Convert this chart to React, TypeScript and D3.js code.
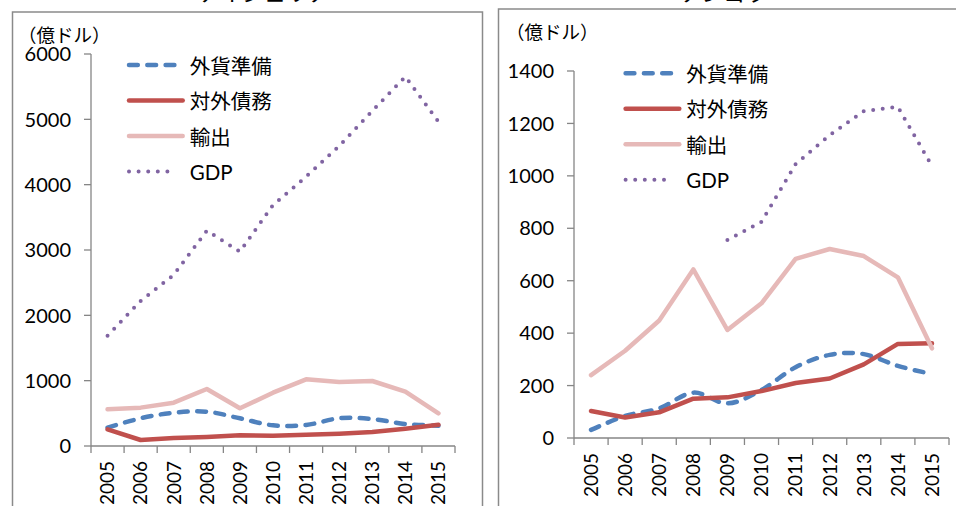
import React from 'react';
import * as d3 from 'd3';

const years = ['2005', '2006', '2007', '2008', '2009', '2010', '2011', '2012', '2013', '2014', '2015'];
const seriesNames = ['外貨準備', '対外債務', '輸出', 'GDP'];
const unitLabel = '（億ドル）';

const leftTitle = 'ナイジェリア';
const leftTicks = [0, 1000, 2000, 3000, 4000, 5000, 6000];
const leftReserves = [281, 424, 510, 525, 424, 316, 321, 424, 413, 337, 311];
const leftDebt = [255, 92, 122, 138, 163, 158, 173, 189, 214, 265, 326];
const leftExports = [562, 587, 663, 872, 577, 816, 1021, 980, 995, 832, 500];
const leftGDP = [1689, 2220, 2620, 3296, 2974, 3689, 4122, 4592, 5128, 5653, 4964];

const rightTitle = 'アンゴラ';
const rightTicks = [0, 200, 400, 600, 800, 1000, 1200, 1400];
const rightReserves = [31, 84, 113, 173, 132, 183, 270, 317, 320, 275, 244];
const rightDebt = [103, 78, 98, 150, 155, 179, 210, 227, 281, 359, 361];
const rightExports = [240, 333, 448, 643, 412, 514, 683, 721, 694, 613, 342];
const rightGDP: (number | null)[] = [null, null, null, null, 755, 825, 1045, 1155, 1247, 1263, 1038];

const STYLES = [
  { color: '#4F81BD', dash: '8.8 9.5', curve: d3.curveCardinal },
  { color: '#C0504D', dash: undefined, curve: d3.curveLinear },
  { color: '#E6B9B8', dash: undefined, curve: d3.curveLinear },
  { color: '#8064A2', dash: '0 9.6', curve: d3.curveLinear },
];

const LATIN = "Lato, 'Noto Sans CJK JP', sans-serif";
const CJK = "'Noto Sans CJK JP', sans-serif";
const AXIS_COLOR = '#868686';

type PanelProps = {
  border: { x: number; y: number; w: number; h: number };
  title: string;
  titleX: number;
  axisX0: number;
  axisX1: number;
  yZero: number;
  yTop: number;
  max: number;
  ticks: number[];
  series: (number | null)[][];
  legendX: number;
  legendY: number;
  unitX: number;
  unitY: number;
};

function Panel(p: PanelProps) {
  const x = d3.scaleBand<string>().domain(years).range([p.axisX0, p.axisX1]).padding(0);
  const y = d3.scaleLinear().domain([0, p.max]).range([p.yZero, p.yTop]);
  const cx = (yr: string) => (x(yr) as number) + x.bandwidth() / 2;
  const boundaries = d3.range(years.length + 1).map((i) => p.axisX0 + i * x.bandwidth());
  const rowGap = 35.5;

  return (
    <g>
      <rect x={p.border.x} y={p.border.y} width={p.border.w} height={p.border.h} fill="#fff" stroke="#8a8a8a" strokeWidth={1.5} />
      <text x={p.titleX} y={1} textAnchor="middle" fontFamily={CJK} fontSize={22} fill="#000">{p.title}</text>
      <text x={p.unitX} y={p.unitY} fontFamily={CJK} fontSize={18.5} fill="#000">{unitLabel}</text>
      {/* y axis */}
      <line x1={p.axisX0} x2={p.axisX0} y1={p.yTop} y2={p.yZero} stroke={AXIS_COLOR} strokeWidth={1.3} />
      {p.ticks.map((t) => (
        <g key={t}>
          <line x1={p.axisX0 - 7} x2={p.axisX0} y1={y(t)} y2={y(t)} stroke={AXIS_COLOR} strokeWidth={1.3} />
          <text x={p.axisX0 - 20} y={y(t)} dy="0.36em" textAnchor="end" fontFamily={LATIN} fontSize={20} fill="#000">{t}</text>
        </g>
      ))}
      {/* x axis */}
      <line x1={p.axisX0} x2={p.axisX1} y1={p.yZero} y2={p.yZero} stroke={AXIS_COLOR} strokeWidth={1.3} />
      {boundaries.map((b, i) => (
        <line key={i} x1={b} x2={b} y1={p.yZero} y2={p.yZero + 7} stroke={AXIS_COLOR} strokeWidth={1.3} />
      ))}
      {years.map((yr) => (
        <text key={yr} transform={`translate(${cx(yr)},${p.yZero + 15}) rotate(-90)`} dy="0.36em" textAnchor="end" fontFamily={LATIN} fontSize={19} fill="#000">{yr}</text>
      ))}
      {/* series */}
      {p.series.map((vals, si) => {
        const st = STYLES[si];
        const gen = d3
          .line<number | null>()
          .defined((d) => d !== null)
          .x((_, i) => cx(years[i]))
          .y((d) => y(d as number))
          .curve(st.curve);
        return (
          <path key={si} d={gen(vals) || ''} fill="none" stroke={st.color} strokeWidth={si === 3 ? 4 : 4.5}
            strokeDasharray={st.dash} strokeLinecap="round" strokeLinejoin="round" />
        );
      })}
      {/* legend */}
      {seriesNames.map((name, i) => {
        const st = STYLES[i];
        const ry = p.legendY + i * rowGap;
        const x1 = p.legendX + 2.3;
        const x2 = i === 0 ? p.legendX + 48 : i === 3 ? p.legendX + 50 : p.legendX + 56;
        return (
          <g key={name}>
            <line x1={x1} x2={x2} y1={ry} y2={ry} stroke={st.color} strokeWidth={i === 3 ? 4 : 4.5}
              strokeDasharray={st.dash} strokeLinecap="round" />
            <text x={p.legendX + 63} y={ry + 8.5} fontFamily={LATIN} fontSize={20.5} fill="#000">{name}</text>
          </g>
        );
      })}
    </g>
  );
}

export default function App() {
  return (
    <svg width={956} height={506} style={{ position: 'absolute', left: 0, top: 0, background: '#fff' }}>
      <rect x={0} y={0} width={956} height={506} fill="#fff" />
      <Panel
        border={{ x: 12.5, y: 12, w: 470, h: 600 }}
        title={leftTitle}
        titleX={264}
        axisX0={91}
        axisX1={455}
        yZero={446}
        yTop={54}
        max={6000}
        ticks={leftTicks}
        series={[leftReserves, leftDebt, leftExports, leftGDP]}
        legendX={126.7}
        legendY={65}
        unitX={18}
        unitY={42}
      />
      <Panel
        border={{ x: 498.5, y: 9, w: 520, h: 600 }}
        title={rightTitle}
        titleX={724}
        axisX0={574}
        axisX1={949}
        yZero={438}
        yTop={71}
        max={1400}
        ticks={rightTicks}
        series={[rightReserves, rightDebt, rightExports, rightGDP]}
        legendX={623.3}
        legendY={73.3}
        unitX={506}
        unitY={38.5}
      />
    </svg>
  );
}
